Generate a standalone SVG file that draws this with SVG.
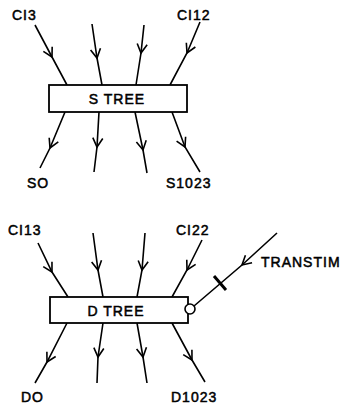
<svg xmlns="http://www.w3.org/2000/svg" width="350" height="406" viewBox="0 0 350 406">
<style>
.ln{stroke:#000;stroke-width:1.6;fill:none;marker-mid:url(#chev)}
.bx{stroke:#000;stroke-width:1.8;fill:#fff}
.lb{font-family:"Liberation Sans",Arial,sans-serif;font-size:14px;fill:#000;stroke:#000;stroke-width:0.5;letter-spacing:1px}
.bt{font-family:"Liberation Sans",Arial,sans-serif;font-size:14px;fill:#000;stroke:#000;stroke-width:0.5;text-anchor:middle;letter-spacing:1px}
</style>
<defs>
<marker id="chev" markerUnits="userSpaceOnUse" markerWidth="20" markerHeight="20" refX="0" refY="0" viewBox="-10 -10 20 20" orient="auto" overflow="visible">
<path d="M-9,-5 L0,0 L-9,5" stroke="#000" stroke-width="1.6" fill="none"/>
</marker>
</defs>
<rect width="350" height="406" fill="#fff"/>
<g id="connectors">
<path class="ln" d="M35,25 L52,57 L67,85"/>
<path class="ln" d="M92,24 L97,58 L102,85"/>
<path class="ln" d="M144,25 L141,53 L136,85"/>
<path class="ln" d="M200,22 L187,53 L170,85"/>
<path class="ln" d="M65,112 L50,148 L40,168"/>
<path class="ln" d="M99,112 L97,147 L94,172"/>
<path class="ln" d="M135,112 L143,150 L147,173"/>
<path class="ln" d="M172,112 L185,147 L200,172"/>
<path class="ln" d="M38,243 L52,272 L68,297"/>
<path class="ln" d="M93,233 L98,270 L103,297"/>
<path class="ln" d="M145,233 L142,270 L137,297"/>
<path class="ln" d="M202,240 L187,270 L172,297"/>
<path class="ln" d="M67,323 L47,362 L35,383"/>
<path class="ln" d="M103,323 L98,357 L97,383"/>
<path class="ln" d="M137,323 L143,357 L147,383"/>
<path class="ln" d="M172,323 L192,360 L205,382"/>
<path class="ln" d="M277,233 L242,265 L194,306"/>
<line x1="214" y1="276" x2="226" y2="290" stroke="#000" stroke-width="3"/>
</g>
<g id="stree">
<rect class="bx" x="49" y="85" width="138" height="27"/>
<text class="bt" x="117" y="104">S TREE</text>
</g>
<g id="dtree">
<rect class="bx" x="50" y="297" width="138" height="26"/>
<text class="bt" x="116" y="316">D TREE</text>
<circle cx="190" cy="309" r="5" stroke="#000" stroke-width="1.6" fill="#fff"/>
</g>
<g id="labels">
<text class="lb" x="12" y="20">CI3</text>
<text class="lb" x="177" y="20">CI12</text>
<text class="lb" x="27" y="188">SO</text>
<text class="lb" x="166" y="188">S1023</text>
<text class="lb" x="8" y="235">CI13</text>
<text class="lb" x="176" y="235">CI22</text>
<text class="lb" x="21" y="402">DO</text>
<text class="lb" x="171" y="402">D1023</text>
<text class="lb" x="261" y="267">TRANSTIM</text>
</g>
</svg>
